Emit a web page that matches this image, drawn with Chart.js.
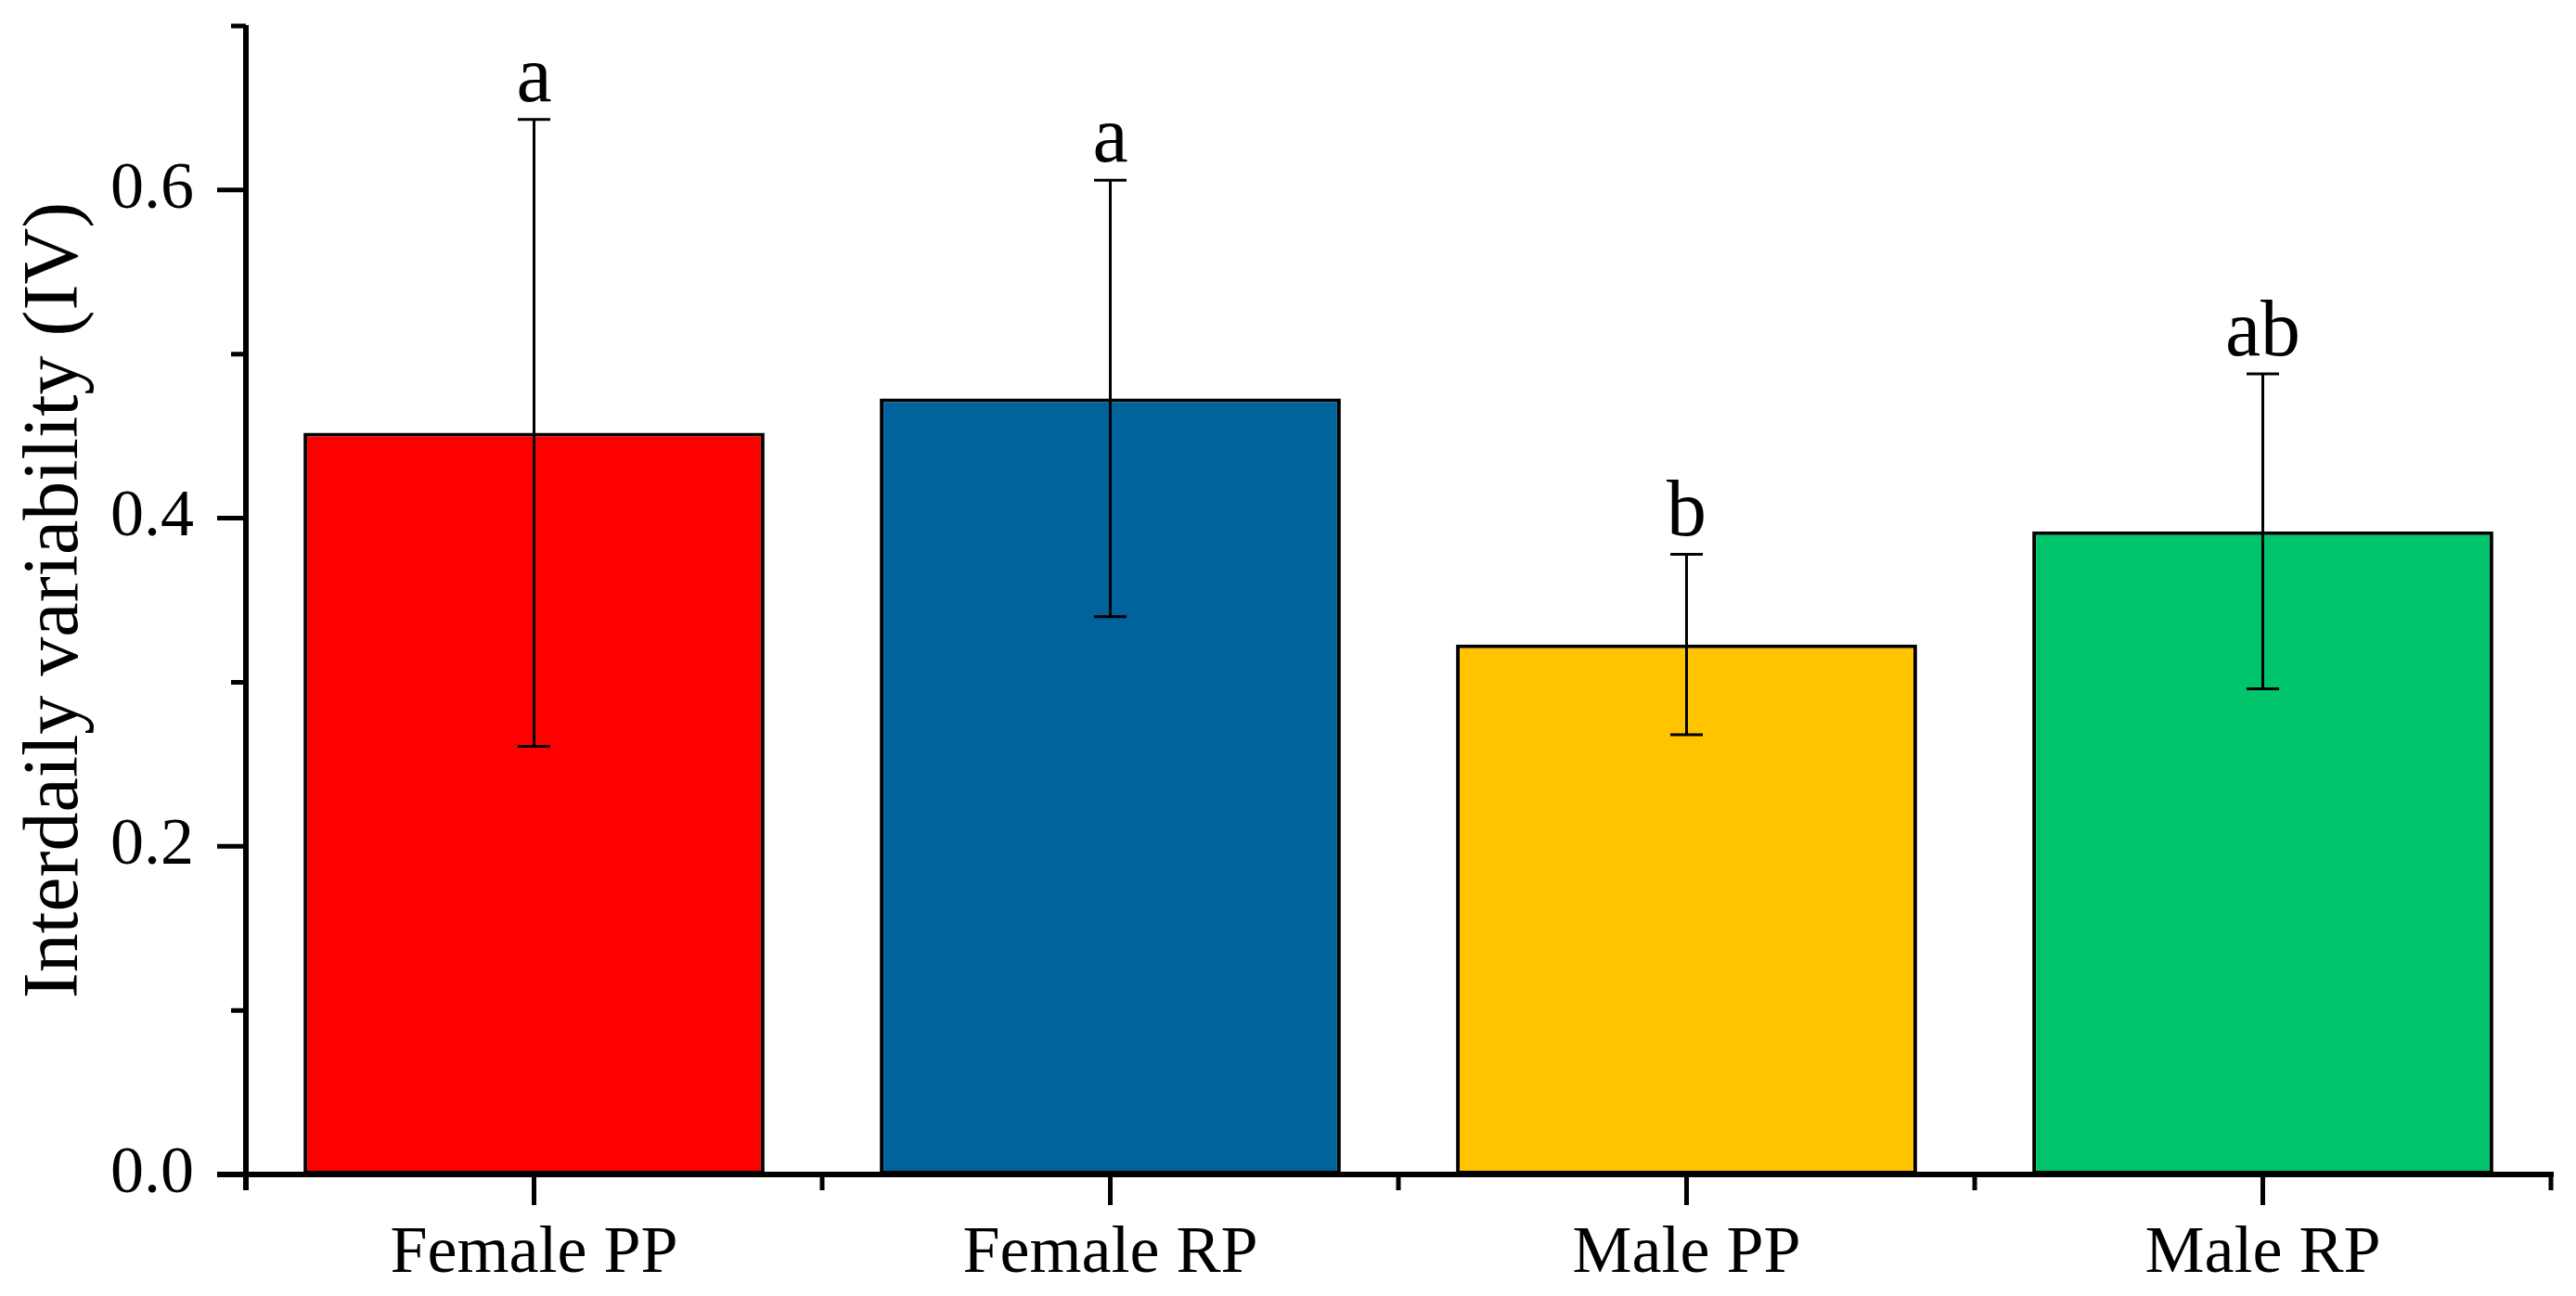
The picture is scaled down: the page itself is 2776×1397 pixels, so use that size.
<!DOCTYPE html>
<html><head><meta charset="utf-8">
<script src="https://cdn.jsdelivr.net/npm/chart.js@4"></script>
<style>html,body{margin:0;padding:0;background:#fff;} #wrap{width:2776px;height:1397px;}</style>
</head><body><div id="wrap"><canvas id="c" width="2776" height="1397"></canvas></div>
<script>
const categories = ['Female PP', 'Female RP', 'Male PP', 'Male RP'];
const meanValues = [0.452, 0.473, 0.323, 0.392];
const sdValues = [0.191, 0.133, 0.055, 0.096];
const groupLetters = ['a', 'a', 'b', 'ab'];
const barColors = ['#FF0000', '#00639C', '#FFC300', '#00C46B'];
const yMin = 0, yMax = 0.7, yStep = 0.1;
const yTitle = 'Interdaily variability (IV)';

const FONT = "'Liberation Serif', 'Times New Roman', serif";

const overlay = {
  id: 'overlay',
  afterDatasetsDraw(chart) {
    const {ctx, scales: {x, y}} = chart;
    ctx.save();
    ctx.strokeStyle = '#000';
    ctx.lineWidth = 3;
    meanValues.forEach((m, i) => {
      const cx = x.getPixelForValue(i);
      const yTop = y.getPixelForValue(m + sdValues[i]);
      const yBot = y.getPixelForValue(m - sdValues[i]);
      ctx.beginPath();
      ctx.moveTo(cx, yTop); ctx.lineTo(cx, yBot);
      ctx.moveTo(cx - 17.5, yTop); ctx.lineTo(cx + 17.5, yTop);
      ctx.moveTo(cx - 17.5, yBot); ctx.lineTo(cx + 17.5, yBot);
      ctx.stroke();
      ctx.fillStyle = '#000';
      ctx.font = '86px ' + FONT;
      ctx.textAlign = 'center';
      ctx.textBaseline = 'alphabetic';
      ctx.fillText(groupLetters[i], cx, yTop - 20);
    });
    ctx.restore();
  },
  afterDraw(chart) {
    const {ctx, chartArea, scales: {x, y}} = chart;
    const left = chartArea.left, bottom = chartArea.bottom, right = chartArea.right;
    const top = y.getPixelForValue(yMax);
    ctx.save();
    ctx.strokeStyle = '#000';
    ctx.lineCap = 'butt';
    ctx.lineWidth = 6;
    ctx.beginPath();
    ctx.moveTo(left, top - 1); ctx.lineTo(left, bottom + 17);
    ctx.moveTo(left - 31, bottom); ctx.lineTo(right + 3, bottom);
    ctx.stroke();
    ctx.lineWidth = 5;
    ctx.beginPath();
    for (let k = 0; k <= Math.round((yMax - yMin) / yStep); k++) {
      const v = yMin + k * yStep;
      const py = y.getPixelForValue(v);
      const len = (k % 2 === 0) ? 31 : 16;
      ctx.moveTo(left - len, py); ctx.lineTo(left, py);
    }
    const half = (x.getPixelForValue(1) - x.getPixelForValue(0)) / 2;
    categories.forEach((c, i) => {
      const cx = x.getPixelForValue(i);
      ctx.moveTo(cx, bottom); ctx.lineTo(cx, bottom + 33);
      ctx.moveTo(cx + half, bottom); ctx.lineTo(cx + half, bottom + 17);
    });
    ctx.stroke();
    ctx.restore();
  }
};

new Chart(document.getElementById('c'), {
  type: 'bar',
  data: {
    labels: categories,
    datasets: [{
      data: meanValues,
      backgroundColor: barColors,
      borderColor: '#000',
      borderWidth: 4,
      borderSkipped: false,
      barPercentage: 0.8,
      categoryPercentage: 1.0
    }]
  },
  options: {
    responsive: false,
    devicePixelRatio: 1,
    animation: false,
    layout: {padding: {top: 28, right: 27, left: 0, bottom: 0}},
    plugins: {legend: {display: false}, tooltip: {enabled: false}},
    scales: {
      x: {
        offset: true,
        grid: {display: false, drawTicks: false},
        border: {display: false},
        ticks: {color: '#000', font: {family: FONT, size: 72}, padding: 43, maxRotation: 0, autoSkip: false},
        afterFit(s) { s.height = 131; s.paddingLeft = 0; s.paddingRight = 0; }
      },
      y: {
        min: yMin, max: yMax,
        grid: {display: false, drawTicks: false},
        border: {display: false},
        ticks: {
          stepSize: yStep,
          color: '#000',
          font: {family: FONT, size: 72},
          padding: 56,
          callback: v => (Math.round(v * 10) % 2 === 0 ? v.toFixed(1) : null)
        },
        title: {display: true, text: yTitle, color: '#000', font: {family: FONT, size: 84}, padding: {top: 11, bottom: 0}},
        afterFit(s) { s.width = 265; s.paddingTop = 0; s.paddingBottom = 0; }
      }
    }
  },
  plugins: [overlay]
});
</script></body></html>
